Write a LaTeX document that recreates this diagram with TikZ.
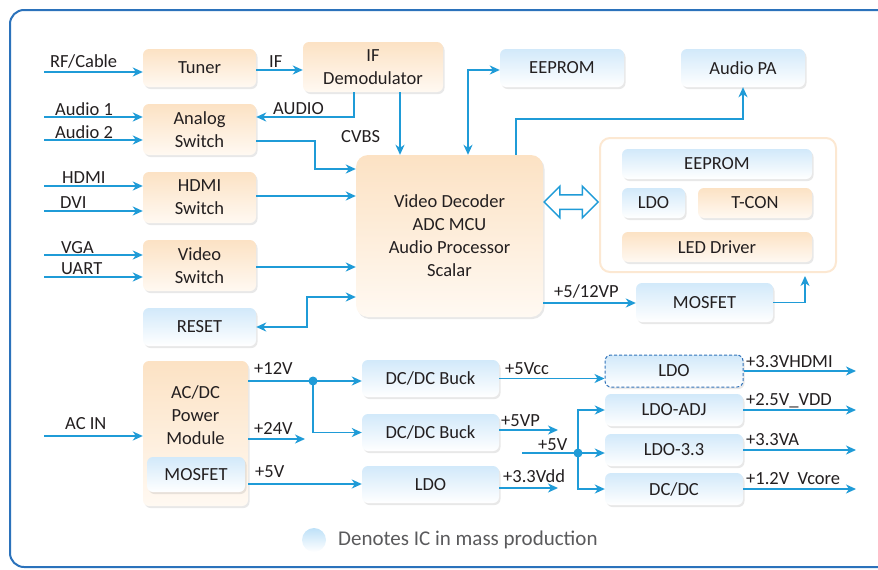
\documentclass[tikz,border=0pt]{standalone}
\usepackage{fontspec}
\setmainfont{Carlito}
\usetikzlibrary{arrows.meta,shadows,shapes.arrows,calc}

\definecolor{wirec}{RGB}{31,155,215}
\definecolor{framec}{RGB}{43,114,187}
\definecolor{ortop}{RGB}{252,226,196}
\definecolor{orbot}{RGB}{255,249,242}
\definecolor{bltop}{RGB}{210,233,250}
\definecolor{blbot}{RGB}{255,255,255}
\definecolor{txtc}{RGB}{35,31,32}
\definecolor{legc}{RGB}{90,90,92}
\definecolor{panelc}{RGB}{252,232,210}
\definecolor{dashc}{RGB}{50,115,185}
\definecolor{dotc}{RGB}{190,225,248}

\tikzset{
  txt/.style={font=\fontsize{18.5}{23}\selectfont, text=txtc},
  blk/.style={txt, rounded corners=6pt, align=center, inner sep=0pt,
    drop shadow={shadow xshift=1.5pt, shadow yshift=-2pt, opacity=0.18}},
  orblk/.style={blk, top color=ortop, bottom color=orbot},
  blblk/.style={blk, top color=bltop, bottom color=blbot},
  lbl/.style={txt, anchor=base west, inner sep=0pt},
  wire/.style={draw=wirec, line width=1.6pt},
  arr/.style={wire, -{Stealth[length=10pt,width=9pt,inset=3pt]}},
  arrboth/.style={wire, {Stealth[length=10pt,width=9pt,inset=3pt]}-{Stealth[length=10pt,width=9pt,inset=3pt]}},
  darr/.style={double arrow, draw=wirec, fill=white, line width=1.5pt, inner sep=0pt,
    minimum height=54pt, double arrow head extend=8.5pt},
}

\begin{document}
\begin{tikzpicture}[x=1pt, y=-1pt]
  \clip (0,0) rectangle (878,570);

  % Outer frame
  \draw[framec, line width=2pt, rounded corners=14pt] (10,10) rectangle (905,567);

  % Front end and switches
  \node[orblk, minimum width=113pt, minimum height=38pt] (tuner) at (199.5,68) {Tuner};
  \node[orblk, minimum width=140pt, minimum height=50pt] (ifdem) at (373,67) {IF\\Demodulator};
  \node[orblk, minimum width=113pt, minimum height=51pt] (anasw) at (199.5,129.5) {Analog\\Switch};
  \node[orblk, minimum width=113pt, minimum height=51pt] (hdmisw) at (199.5,197.5) {HDMI\\Switch};
  \node[orblk, minimum width=113pt, minimum height=51pt] (vidsw) at (199.5,265.5) {Video\\Switch};
  \node[blblk, minimum width=113pt, minimum height=38pt] (reset) at (199.5,327) {RESET};

  % Main chip
  \node[orblk, rounded corners=12pt, minimum width=187pt, minimum height=162pt] (dec) at (449.5,236)
    {Video Decoder\\ADC MCU\\Audio Processor\\Scalar};

  % Top right
  \node[blblk, minimum width=124pt, minimum height=38pt] (eeprom) at (562,68) {EEPROM};
  \node[blblk, minimum width=124pt, minimum height=38pt] (audiopa) at (743,68) {Audio PA};

  % Panel group
  \node[draw=panelc, fill=white, line width=2pt, rounded corners=10pt, inner sep=0pt,
    minimum width=236pt, minimum height=134pt] (panel) at (718,205) {};
  \node[blblk, minimum width=190pt, minimum height=30pt] (peeprom) at (717,164) {EEPROM};
  \node[blblk, minimum width=63pt, minimum height=30pt] (pldo) at (653.5,203) {LDO};
  \node[orblk, minimum width=114pt, minimum height=30pt] (tcon) at (755,203) {T-CON};
  \node[orblk, minimum width=190pt, minimum height=30pt] (led) at (717,247) {LED Driver};
  \node[blblk, minimum width=137pt, minimum height=39pt] (mosfet) at (704.5,302.5) {MOSFET};
  \node[darr, yshift=3pt] (link) at ($(dec.east |- panel.west)!0.5!(panel.west)$) {\rule{0pt}{13pt}};

  % Power section
  \node[orblk, minimum width=105pt, minimum height=145pt] (acdc) at (195.5,433.5) {};
  \node[txt, align=center, inner sep=0pt] (acdctxt) at (195.5,415) {AC/DC\\Power\\Module};
  \node[blblk, minimum width=98pt, minimum height=35pt] (acmos) at (196,474.5) {MOSFET};
  \node[blblk, minimum width=137pt, minimum height=37pt] (buck1) at (430.5,378.5) {DC/DC Buck};
  \node[blblk, minimum width=137pt, minimum height=37pt] (buck2) at (430.5,432.5) {DC/DC Buck};
  \node[blblk, minimum width=137pt, minimum height=37pt] (ldo5) at (430.5,484.5) {LDO};
  \node[blblk, draw=dashc, line width=1pt, dash pattern=on 3pt off 2pt,
    minimum width=138pt, minimum height=32pt] (ldoh) at (674,371) {LDO};
  \node[blblk, minimum width=138pt, minimum height=32pt] (ldoadj) at (674,410) {LDO-ADJ};
  \node[blblk, minimum width=138pt, minimum height=32pt] (ldo33) at (674,450) {LDO-3.3};
  \node[blblk, minimum width=138pt, minimum height=32pt] (dcdc) at (674,489) {DC/DC};

  % Free ends
  \coordinate (rfin) at (44,72);
  \coordinate (au1) at (44,117);
  \coordinate (au2) at (44,140);
  \coordinate (hdin) at (44,186);
  \coordinate (dvin) at (44,211);
  \coordinate (vgin) at (44,255);
  \coordinate (uain) at (44,277);
  \coordinate (acin) at (44,436);
  \coordinate (j12) at (313,381);
  \coordinate (p24) at (305,439);
  \coordinate (p5vp) at (558,430);
  \coordinate (p33dd) at (558,488);
  \coordinate (s5) at (522,453);
  \coordinate (j5) at (578,453);
  \coordinate (oute) at (856,0);

  % Signal connectors
  \draw[arr] (rfin) -- (rfin -| tuner.west);
  \draw[arr] ([yshift=-2pt]tuner.east) -- ([yshift=-2pt]tuner.east -| ifdem.west);
  \draw[arr] ([xshift=-19pt]ifdem.south) |- ([yshift=12.5pt]anasw.east);
  \draw[arr] ([xshift=27pt]ifdem.south) -- ([xshift=27pt]ifdem.south |- dec.north);
  \draw[arr] (au1) -- (au1 -| anasw.west);
  \draw[arr] (au2) -- (au2 -| anasw.west);
  \draw[arr] ([yshift=-11.5pt]anasw.east) -- ++(59,0) |- ([yshift=67pt]dec.west);
  \draw[arr] (hdin) -- (hdin -| hdmisw.west);
  \draw[arr] (dvin) -- (dvin -| hdmisw.west);
  \draw[arr] ([yshift=1.5pt]hdmisw.east) -- ([yshift=1.5pt]hdmisw.east -| dec.west);
  \draw[arr] (vgin) -- (vgin -| vidsw.west);
  \draw[arr] (uain) -- (uain -| vidsw.west);
  \draw[arr] ([yshift=-1.5pt]vidsw.east) -- ([yshift=-1.5pt]vidsw.east -| dec.west);
  \draw[arrboth] ([yshift=-61pt]dec.west) -- ++(-49,0) |- (reset.east);
  \draw[arrboth] ([xshift=18.5pt]dec.north) |- ([yshift=-2pt]eeprom.west);
  \draw[arr] ([xshift=66.5pt]dec.north) -- ++(0,-36) -| (audiopa.south);
  \draw[arr] ([yshift=-67pt]dec.east) -- ([yshift=-67pt]dec.east -| mosfet.west);
  \draw[arr, shorten >=3pt] (mosfet.east) -| ([xshift=87pt]panel.south);

  % Power connectors
  \draw[arr] (acin) -- (acin -| acdc.west);
  \draw[arr] (acdc.east |- j12) -- (j12 -| buck1.west);
  \draw[arr] (j12) |- (buck2.west);
  \fill[wirec] (j12) circle (4.5pt);
  \draw[arr] (acdc.east |- p24) -- (p24);
  \draw[arr] ([yshift=-50.5pt]acdc.east) -- ([yshift=-50.5pt]acdc.east -| ldo5.west);
  \draw[arr] (buck1.east) -- (buck1.east -| ldoh.west);
  \draw[arr] (buck2.east |- p5vp) -- (p5vp);
  \draw[arr] (ldo5.east |- p33dd) -- (p33dd);
  \draw[arr] (s5) -- (s5 -| ldo33.west);
  \draw[arr] (j5) |- (ldoadj.west);
  \draw[arr] (j5) |- (dcdc.west);
  \fill[wirec] (j5) circle (4.5pt);
  \draw[arr] (ldoh.east) -- (ldoh.east -| oute);
  \draw[arr] (ldoadj.east) -- (ldoadj.east -| oute);
  \draw[arr] (ldo33.east) -- (ldo33.east -| oute);
  \draw[arr] (dcdc.east) -- (dcdc.east -| oute);

  % Labels
  \node[lbl] (l-rf) at (50,67) {RF/Cable};
  \node[lbl] (l-if) at (269,67) {IF};
  \node[lbl] (l-au1) at (55,115) {Audio 1};
  \node[lbl] (l-au2) at (55,138) {Audio 2};
  \node[lbl] (l-audio) at (273,114) {AUDIO};
  \node[lbl] (l-cvbs) at (341,142) {CVBS};
  \node[lbl] (l-hdmi) at (62,183) {HDMI};
  \node[lbl] (l-dvi) at (60,208) {DVI};
  \node[lbl] (l-vga) at (61,253) {VGA};
  \node[lbl] (l-uart) at (61,274) {UART};
  \node[lbl] (l-512) at (554,297) {+5/12VP};
  \node[lbl] (l-acin) at (65,429) {AC IN};
  \node[lbl] (l-12v) at (254,374) {+12V};
  \node[lbl] (l-24v) at (254,434) {+24V};
  \node[lbl] (l-5v) at (255,477) {+5V};
  \node[lbl] (l-5vcc) at (505,374) {+5Vcc};
  \node[lbl] (l-5vp) at (501,426) {+5VP};
  \node[lbl] (l-33dd) at (503,482) {+3.3Vdd};
  \node[lbl] (l-5vb) at (538,450) {+5V};
  \node[lbl] (l-hdmiv) at (746,367) {+3.3VHDMI};
  \node[lbl] (l-vdd) at (746,405) {+2.5V\_VDD};
  \node[lbl] (l-va) at (746,445) {+3.3VA};
  \node[lbl] (l-core) at (746,484) {+1.2V\ \ Vcore};

  % Legend
  \node[circle, minimum size=24pt, inner sep=0pt, top color=dotc, bottom color=white] (legdot) at (314,540) {};
  \node[lbl, text=legc, font=\fontsize{21}{25}\selectfont] (legtxt) at (338,545) {Denotes IC in mass production};
\end{tikzpicture}
\end{document}
